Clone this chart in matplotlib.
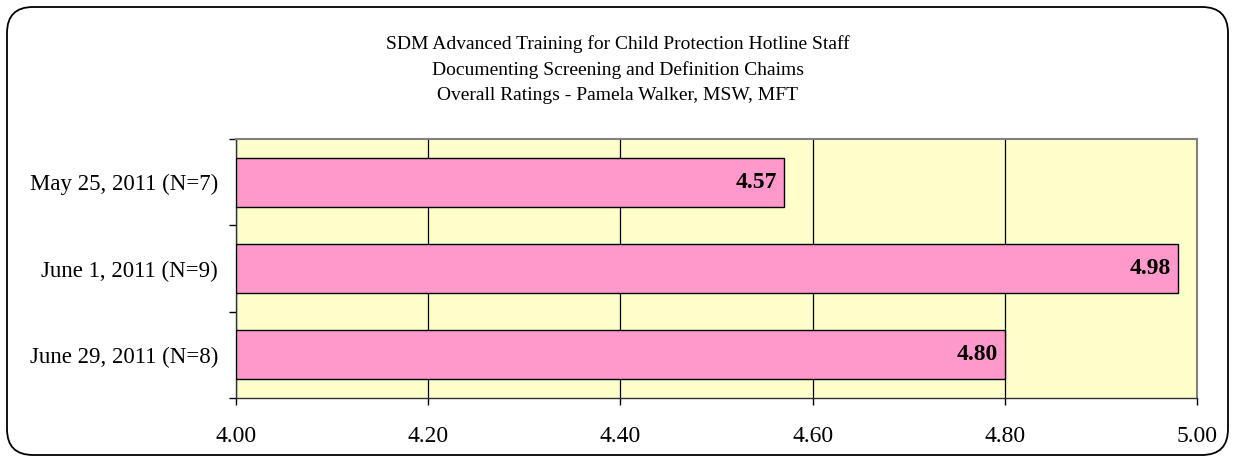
import matplotlib.pyplot as plt
from matplotlib.patches import FancyBboxPatch
from matplotlib.transforms import IdentityTransform
import numpy as np

plt.rcParams['font.family'] = ['Liberation Serif', 'DejaVu Serif']

categories = ['May 25, 2011 (N=7)', 'June 1, 2011 (N=9)', 'June 29, 2011 (N=8)']
ratings = [4.57, 4.98, 4.80]
xticks = [4.00, 4.20, 4.40, 4.60, 4.80, 5.00]
title_lines = ['SDM Advanced Training for Child Protection Hotline Staff',
               'Documenting Screening and Definition Chaims',
               'Overall Ratings - Pamela Walker, MSW, MFT']

fig = plt.figure(figsize=(12.35, 4.61), dpi=100)
ax = fig.add_axes([0.1911, 0.1367, 0.7781, 0.5618])

# rounded frame around the whole chart
frame = FancyBboxPatch((7, 6), 1221, 448, boxstyle='round,pad=0,rounding_size=26',
                       transform=IdentityTransform(), facecolor='none',
                       edgecolor='black', linewidth=1.3)
fig.patches.append(frame)

ax.set_facecolor('#FFFFCC')
ypos = np.arange(len(categories))
ax.barh(ypos, [r - 4.0 for r in ratings], left=4.0, height=0.565,
        color='#FF99CC', edgecolor='black', linewidth=1, zorder=3)
for y, r in zip(ypos, ratings):
    ax.text(r - 0.007, y, '%.2f' % r, ha='right', va='center',
            fontsize=17, fontweight='bold', zorder=4)

ax.set_xlim(4.0, 5.0)
ax.set_ylim(len(categories) - 0.5, -0.5)
ax.set_xticks(xticks)
ax.set_xticklabels(['%.2f' % t for t in xticks], fontsize=17)
ax.set_yticks(ypos)
ax.set_yticklabels(categories, fontsize=16.5)
ax.set_yticks(np.arange(len(categories) + 1) - 0.5, minor=True)
ax.tick_params(axis='y', which='major', length=0, pad=13)
ax.tick_params(axis='y', which='minor', length=5, width=1)
ax.tick_params(axis='x', length=5, width=1, pad=15)
ax.grid(axis='x', color='black', linewidth=0.9, zorder=1)
ax.set_axisbelow(True)

for side in ['top', 'right']:
    ax.spines[side].set_color('#808080')
    ax.spines[side].set_linewidth(1.5)
for side in ['left', 'bottom']:
    ax.spines[side].set_color('#333333')
    ax.spines[side].set_linewidth(1)

# three title lines, evenly spaced
for i, line in enumerate(title_lines):
    fig.text(0.5, 1 - (42 + 26 * i) / 461, line, ha='center', va='center_baseline',
             fontsize=14)

fig.savefig('out.png', dpi=100)
